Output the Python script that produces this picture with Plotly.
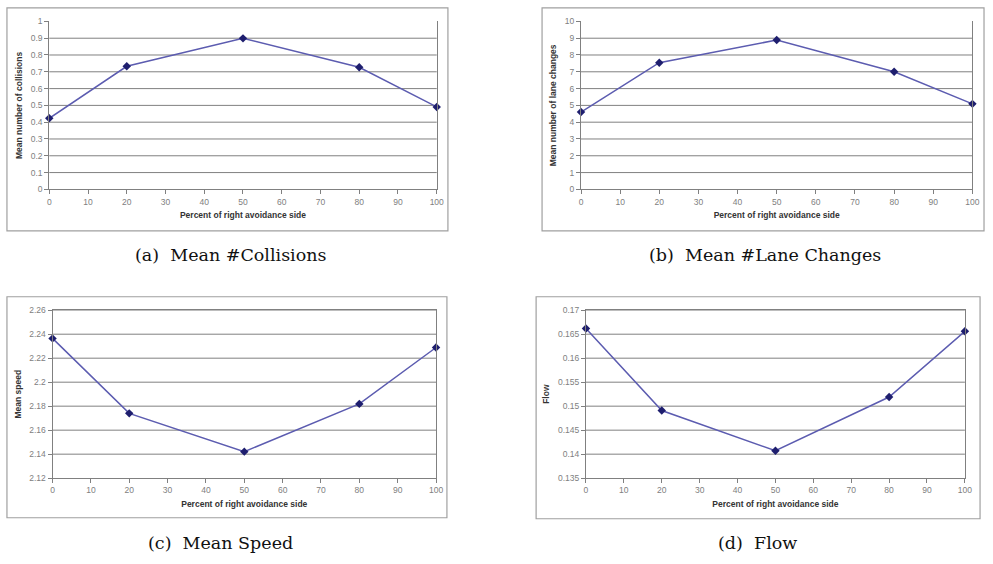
import plotly.graph_objects as go

W, H = 993, 564

# ---------------- data ----------------
pct_right = [0, 20, 50, 80, 100]

collisions = [0.423, 0.733, 0.899, 0.727, 0.491]
lane_changes = [4.60, 7.54, 8.89, 7.00, 5.09]
mean_speed = [2.2365, 2.1740, 2.1421, 2.1819, 2.2289]
flow = [0.1662, 0.1491, 0.1407, 0.1519, 0.1656]

x_ticks = [0, 10, 20, 30, 40, 50, 60, 70, 80, 90, 100]
x_ticklabels = ["0", "10", "20", "30", "40", "50", "60", "70", "80", "90", "100"]

coll_ticks = [0, 0.1, 0.2, 0.3, 0.4, 0.5, 0.6, 0.7, 0.8, 0.9, 1.0]
coll_ticklabels = ["0", "0.1", "0.2", "0.3", "0.4", "0.5", "0.6", "0.7", "0.8", "0.9", "1"]

lane_ticks = [0, 1, 2, 3, 4, 5, 6, 7, 8, 9, 10]
lane_ticklabels = ["0", "1", "2", "3", "4", "5", "6", "7", "8", "9", "10"]

speed_ticks = [2.12, 2.14, 2.16, 2.18, 2.20, 2.22, 2.24, 2.26]
speed_ticklabels = ["2.12", "2.14", "2.16", "2.18", "2.2", "2.22", "2.24", "2.26"]

flow_ticks = [0.135, 0.14, 0.145, 0.15, 0.155, 0.16, 0.165, 0.17]
flow_ticklabels = ["0.135", "0.14", "0.145", "0.15", "0.155", "0.16", "0.165", "0.17"]

x_title = "Percent of right avoidance side"
y_titles = ["Mean number of collisions", "Mean number of lane changes", "Mean speed", "Flow"]
captions = ["(a)  Mean #Collisions", "(b)  Mean #Lane Changes", "(c)  Mean Speed", "(d)  Flow"]

# ---------------- layout geometry (pixels) ----------------
def px_dom_x(a, b):
    return [a / W, b / W]

def px_dom_y(top, bottom):
    return [1 - bottom / H, 1 - top / H]

panels = [
    dict(data=collisions, yt=coll_ticks, yl=coll_ticklabels,
         xd=px_dom_x(47.7, 438.7), yd=px_dom_y(16.7, 187.7),
         box=(5, 3, 450, 230), cap=(231, 255), topline=False),
    dict(data=lane_changes, yt=lane_ticks, yl=lane_ticklabels,
         xd=px_dom_x(584.3, 979.3), yd=px_dom_y(16.7, 187.7),
         box=(545, 3, 991, 230), cap=(770, 255), topline=False),
    dict(data=mean_speed, yt=speed_ticks, yl=speed_ticklabels,
         xd=px_dom_x(51, 438), yd=px_dom_y(310.7, 481.7),
         box=(5, 297, 449, 522), cap=(220, 548), topline=True),
    dict(data=flow, yt=flow_ticks, yl=flow_ticklabels,
         xd=px_dom_x(589.3, 971.7), yd=px_dom_y(310.7, 481.7),
         box=(539, 297, 987, 523), cap=(762, 548), topline=True),
]

LINE_COLOR = "#5c5cb0"
MARKER_COLOR = "#1e1e6e"
GRID = "#808080"
TICKFONT = dict(family="Liberation Sans, Arial, sans-serif", size=8.5, color="#808080")
TITLEFONT = dict(family="Liberation Sans, Arial, sans-serif", size=8.5, color="#333333")

fig = go.Figure()
layout = dict(
    width=W, height=H, margin=dict(l=0, r=0, t=0, b=0),
    paper_bgcolor="white", plot_bgcolor="white", showlegend=False,
)
shapes = []
annotations = []

for i, p in enumerate(panels):
    n = "" if i == 0 else str(i + 1)
    fig.add_trace(go.Scatter(
        x=pct_right, y=p["data"], mode="lines+markers",
        xaxis="x" + n, yaxis="y" + n,
        line=dict(color=LINE_COLOR, width=1.5),
        marker=dict(symbol="diamond", size=6.5, color=MARKER_COLOR),
        cliponaxis=False,
    ))
    layout["xaxis" + n] = dict(
        domain=p["xd"], anchor="y" + n, range=[0, 100],
        tickvals=x_ticks, ticktext=x_ticklabels, tickfont=TICKFONT,
        showgrid=False, zeroline=False, showline=True, linecolor=GRID, linewidth=1,
        mirror=p["topline"],
        ticks="outside", ticklen=4, tickcolor=GRID,
        title=dict(text="<b>" + x_title + "</b>", font=TITLEFONT, standoff=6),
        fixedrange=True,
    )
    layout["yaxis" + n] = dict(
        domain=p["yd"], anchor="x" + n, range=[p["yt"][0], p["yt"][-1]],
        tickvals=p["yt"], ticktext=p["yl"], tickfont=TICKFONT,
        showgrid=False, zeroline=False,
        showline=True, linecolor=GRID, linewidth=1, mirror=True,
        ticks="outside", ticklen=4, tickcolor=GRID,
        title=dict(text="<b>" + y_titles[i] + "</b>", font=TITLEFONT, standoff=6),
        fixedrange=True,
    )
    # horizontal gridlines at the y ticks (the top one only where the frame closes)
    grid_vals = p["yt"][1:] if p["topline"] else p["yt"][1:-1]
    for v in grid_vals:
        shapes.append(dict(type="line", xref="x" + n + " domain", yref="y" + n,
                           x0=0, x1=1, y0=v, y1=v,
                           line=dict(color=GRID, width=1), layer="below"))
    x0, y0, x1, y1 = p["box"]
    shapes.append(dict(type="rect", xref="paper", yref="paper",
                       x0=x0 / W, x1=x1 / W, y0=1 - y1 / H, y1=1 - y0 / H,
                       line=dict(color="#a0a0a0", width=1.2), fillcolor="rgba(0,0,0,0)",
                       layer="below"))
    cx, cy = p["cap"]
    annotations.append(dict(text=captions[i], xref="paper", yref="paper",
                            x=cx / W, y=1 - cy / H, showarrow=False,
                            xanchor="center", yanchor="middle",
                            font=dict(family="DejaVu Serif, serif", size=17.5, color="#111111")))

layout["shapes"] = shapes
layout["annotations"] = annotations
fig.update_layout(**layout)
fig.write_html(
    "out.html",
    config={"displayModeBar": False},
    post_script="document.body.style.margin='0';document.body.style.padding='0';"
                "document.body.style.overflow='hidden';",
)
